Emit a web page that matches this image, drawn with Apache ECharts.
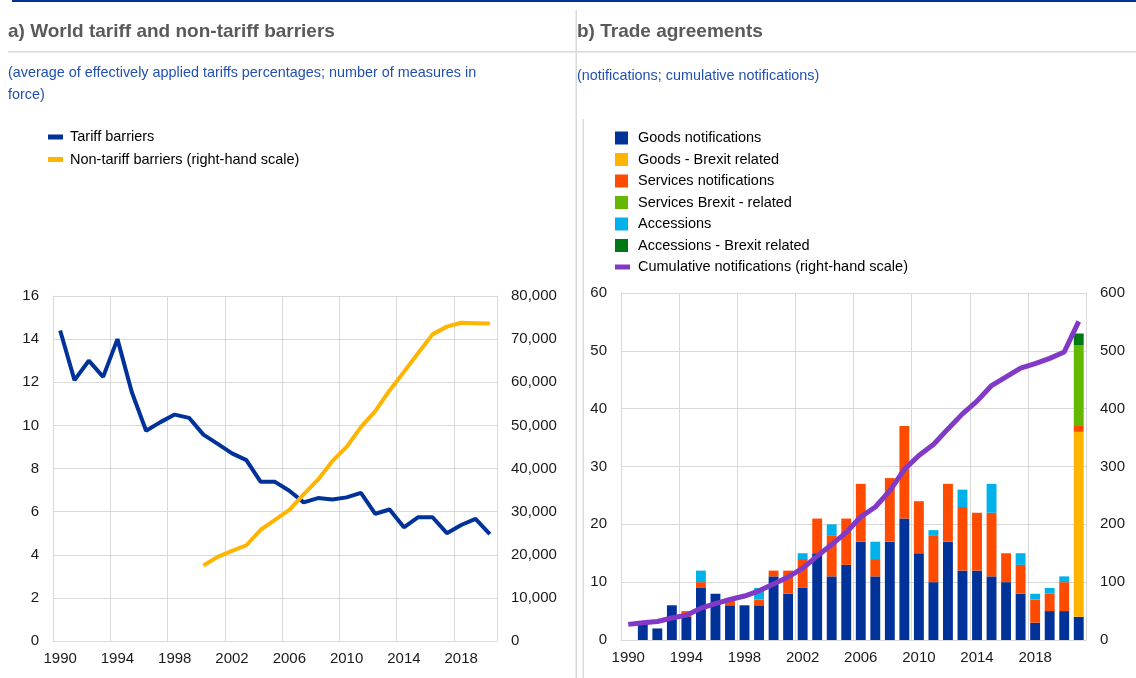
<!DOCTYPE html>
<html>
<head>
<meta charset="utf-8">
<title>Tariffs and trade agreements</title>
<script src="https://cdn.jsdelivr.net/npm/echarts@6/dist/echarts.min.js"></script>
<style>
  html, body { margin: 0; padding: 0; background: #fff; }
  #main { width: 1136px; height: 678px; }
</style>
</head>
<body>
<div id="main"></div>
<script>
// chart a) years and values
const yearsA = []
for (let y = 1990; y <= 2020; y++) yearsA.push(String(y))
const tariffBarriers = [14.4, 12.1, 13.0, 12.25, 14.0, 11.55, 9.75, 10.15, 10.5, 10.35,
  9.57, 9.14, 8.7, 8.39, 7.38, 7.38, 6.97, 6.43, 6.63, 6.56,
  6.66, 6.87, 5.9, 6.1, 5.27, 5.74, 5.74, 5.0, 5.38, 5.66, 4.96]
const nonTariffBarriers = [null, null, null, null, null, null, null, null, null, null,
  17500, 19500, 20900, 22200, 25800, 28100, 30400, 34000, 37400, 41700,
  45000, 49600, 53300, 58100, 62400, 66800, 71100, 72900, 73800, 73700, 73600]

// chart b) years and values
const yearsB = []
for (let y = 1990; y <= 2021; y++) yearsB.push(String(y))
const goodsNotif = [0, 3, 2, 6, 4, 9, 8, 6, 6, 6, 11, 8, 9, 15, 11, 13, 17, 11, 17, 21,
  15, 10, 17, 12, 12, 11, 10, 8, 3, 5, 5, 4]
const goodsBrexit = [0, 0, 0, 0, 0, 0, 0, 0, 0, 0, 0, 0, 0, 0, 0, 0, 0, 0, 0, 0,
  0, 0, 0, 0, 0, 0, 0, 0, 0, 0, 0, 32]
const servicesNotif = [0, 0, 0, 0, 1, 1, 0, 1, 0, 1, 1, 4, 5, 6, 7, 8, 10, 3, 11, 16,
  9, 8, 10, 11, 10, 11, 5, 5, 4, 3, 5, 1]
const servicesBrexit = [0, 0, 0, 0, 0, 0, 0, 0, 0, 0, 0, 0, 0, 0, 0, 0, 0, 0, 0, 0,
  0, 0, 0, 0, 0, 0, 0, 0, 0, 0, 0, 14]
const accessions = [0, 0, 0, 0, 0, 2, 0, 0, 0, 2, 0, 0, 1, 0, 2, 0, 0, 3, 0, 0,
  0, 1, 0, 3, 0, 5, 0, 2, 1, 1, 1, 0]
const accessionsBrexit = [0, 0, 0, 0, 0, 0, 0, 0, 0, 0, 0, 0, 0, 0, 0, 0, 0, 0, 0, 0,
  0, 0, 0, 0, 0, 0, 0, 0, 0, 0, 0, 2]
const cumulativeNotif = [27, 30, 32, 38, 43, 55, 63, 70, 76, 85, 97, 109, 124, 145, 165, 186,
  213, 230, 258, 295, 319, 338, 365, 391, 413, 440, 455, 470, 478, 487, 498, 551]

const font = 'Liberation Sans, Arial, sans-serif'
const gridColor = '#d9d9d9'
const labelStyle = { fontFamily: font, fontSize: 15, color: '#1a1a1a' }

const chart = echarts.init(document.getElementById('main'), null, { renderer: 'canvas' })

function catAxis(gridIndex, data) {
  return {
    type: 'category',
    gridIndex: gridIndex,
    data: data,
    boundaryGap: true,
    axisLine: { lineStyle: { color: gridColor, width: 1 } },
    axisTick: { show: false },
    axisLabel: Object.assign({ interval: 3, margin: 10 }, labelStyle),
    splitLine: { show: true, interval: 3, lineStyle: { color: gridColor, width: 1 } }
  }
}

function valAxis(gridIndex, pos, max, interval, split, fmt) {
  return {
    type: 'value',
    gridIndex: gridIndex,
    position: pos,
    min: 0,
    max: max,
    interval: interval,
    axisLine: { show: true, lineStyle: { color: gridColor, width: 1 } },
    axisTick: { show: false },
    axisLabel: Object.assign({ margin: 14, formatter: fmt }, labelStyle),
    splitLine: { show: split, lineStyle: { color: gridColor, width: 1 } }
  }
}

const thousands = v => v.toLocaleString('en-US')

const legendText = { fontFamily: font, fontSize: 14.5, color: '#000', lineHeight: 16 }

const options = {
  animation: false,
  backgroundColor: '#fff',
  title: [
    {
      text: 'a) World tariff and non-tariff barriers',
      left: 8, top: 22, padding: 0,
      textStyle: { fontFamily: font, fontSize: 19, fontWeight: 'bold', color: '#5a5a5a' }
    },
    {
      text: '(average of effectively applied tariffs percentages; number of measures in\nforce)',
      left: 8, top: 62, padding: 0,
      textStyle: { fontFamily: font, fontSize: 14.4, fontWeight: 'normal', color: '#2150b0', lineHeight: 22 }
    },
    {
      text: 'b) Trade agreements',
      left: 577, top: 22, padding: 0,
      textStyle: { fontFamily: font, fontSize: 19, fontWeight: 'bold', color: '#5a5a5a' }
    },
    {
      text: '(notifications; cumulative notifications)',
      left: 577, top: 65, padding: 0,
      textStyle: { fontFamily: font, fontSize: 14.4, fontWeight: 'normal', color: '#2150b0', lineHeight: 22 }
    }
  ],
  legend: [
    {
      orient: 'vertical', left: 48, top: 129, padding: 0, icon: 'rect',
      itemWidth: 15, itemHeight: 5, itemGap: 6.5, selectedMode: false,
      textStyle: Object.assign({ padding: [0, 0, 0, 2] }, legendText),
      data: ['Tariff barriers', 'Non-tariff barriers (right-hand scale)']
    },
    {
      orient: 'vertical', left: 615, top: 130, padding: 0, icon: 'rect',
      itemWidth: 13, itemHeight: 13, itemGap: 5.5, selectedMode: false,
      textStyle: Object.assign({ padding: [0, 0, 0, 5] }, legendText),
      data: ['Goods notifications', 'Goods - Brexit related', 'Services notifications',
        'Services Brexit - related', 'Accessions', 'Accessions - Brexit related']
    },
    {
      orient: 'vertical', left: 615, top: 259, padding: 0, icon: 'rect',
      itemWidth: 15, itemHeight: 5, selectedMode: false,
      textStyle: Object.assign({ padding: [0, 0, 0, 3] }, legendText),
      data: ['Cumulative notifications (right-hand scale)']
    }
  ],
  grid: [
    { left: 53, top: 296, width: 444, height: 345 },
    { left: 621, top: 293, width: 465, height: 347 }
  ],
  xAxis: [catAxis(0, yearsA), catAxis(1, yearsB)],
  yAxis: [
    valAxis(0, 'left', 16, 2, true),
    valAxis(0, 'right', 80000, 10000, false, thousands),
    valAxis(1, 'left', 60, 10, true),
    valAxis(1, 'right', 600, 100, false)
  ],
  graphic: [
    { type: 'rect', shape: { x: 12, y: 0, width: 1124, height: 2 }, style: { fill: '#003299' } },
    { type: 'rect', shape: { x: 8, y: 51, width: 1128, height: 1.5 }, style: { fill: '#d9d9d9' } },
    { type: 'rect', shape: { x: 575.5, y: 10, width: 1.5, height: 668 }, style: { fill: '#d9d9d9' } },
    { type: 'rect', shape: { x: 582.5, y: 119, width: 1.5, height: 559 }, style: { fill: '#d9d9d9' } }
  ],
  series: [
    {
      name: 'Tariff barriers', type: 'line', xAxisIndex: 0, yAxisIndex: 0,
      data: tariffBarriers, showSymbol: false, color: '#003299',
      lineStyle: { width: 4, color: '#003299' }
    },
    {
      name: 'Non-tariff barriers (right-hand scale)', type: 'line', xAxisIndex: 0, yAxisIndex: 1,
      data: nonTariffBarriers, showSymbol: false, color: '#ffb400',
      lineStyle: { width: 4, color: '#ffb400' }
    },
    { name: 'Goods notifications', type: 'bar', stack: 'n', xAxisIndex: 1, yAxisIndex: 2,
      barWidth: '68%', data: goodsNotif, color: '#003299' },
    { name: 'Goods - Brexit related', type: 'bar', stack: 'n', xAxisIndex: 1, yAxisIndex: 2,
      barWidth: '68%', data: goodsBrexit, color: '#ffb400' },
    { name: 'Services notifications', type: 'bar', stack: 'n', xAxisIndex: 1, yAxisIndex: 2,
      barWidth: '68%', data: servicesNotif, color: '#ff4b00' },
    { name: 'Services Brexit - related', type: 'bar', stack: 'n', xAxisIndex: 1, yAxisIndex: 2,
      barWidth: '68%', data: servicesBrexit, color: '#65b800' },
    { name: 'Accessions', type: 'bar', stack: 'n', xAxisIndex: 1, yAxisIndex: 2,
      barWidth: '68%', data: accessions, color: '#00b1ea' },
    { name: 'Accessions - Brexit related', type: 'bar', stack: 'n', xAxisIndex: 1, yAxisIndex: 2,
      barWidth: '68%', data: accessionsBrexit, color: '#007816' },
    {
      name: 'Cumulative notifications (right-hand scale)', type: 'line', xAxisIndex: 1, yAxisIndex: 3,
      data: cumulativeNotif, showSymbol: false, color: '#8139c6', z: 5,
      lineStyle: { width: 5, color: '#8139c6' }
    }
  ]
}

chart.setOption(options)
</script>
</body>
</html>
